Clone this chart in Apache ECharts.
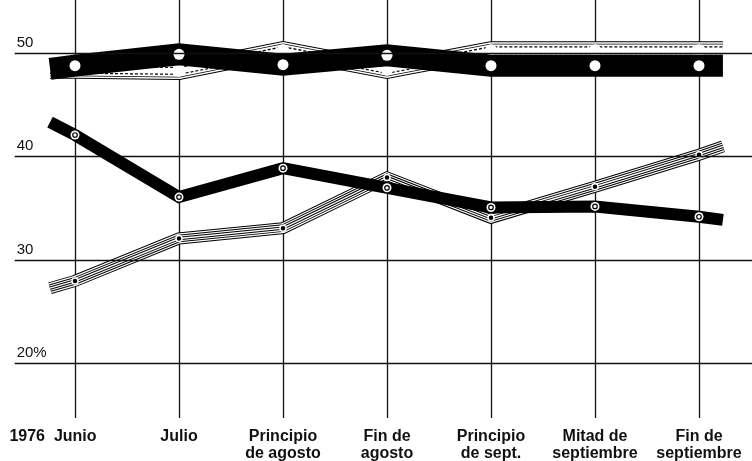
<!DOCTYPE html>
<html>
<head>
<meta charset="utf-8">
<script src="https://cdn.jsdelivr.net/npm/echarts@6/dist/echarts.min.js"></script>
<style>
html,body{margin:0;padding:0;background:#fff;}
#chart{width:752px;height:461px;}
</style>
</head>
<body>
<div id="chart"></div>
<script>
// ---- data ----
const categories = ['1976  Junio', 'Julio', 'Principio\nde agosto', 'Fin de\nagosto', 'Principio\nde sept.', 'Mitad de\nseptiembre', 'Fin de\nseptiembre'];
const yTickValues = [20, 30, 40, 50];
const yTickLabels = ['20%', '30', '40', '50'];

// thick black band near 50
const topBand = [48.8, 49.9, 48.9, 49.8, 48.8, 48.8, 48.8];
const topBandEnds = [48.5, 48.8];
// hatched band behind it
const topHatched = [48.4, 48.3, 50.3, 48.4, 50.3, 50.3, 50.3];
const topHatchedEnds = [48.4, 50.3];
// solid black line
const blackLine = [42.1, 36.1, 38.9, 37.0, 35.1, 35.2, 34.2];
const blackLineEnds = [43.35, 33.9];
// striped line
const stripedLine = [28.0, 32.1, 33.1, 38.0, 34.1, 37.1, 40.2];
const stripedLineEnds = [27.3, 41.0];

// ---- layout ----
const startX = -0.24, endX = 6.23;

function build(vals, ends) {
  const d = [{ value: [startX, ends[0]], symbol: 'none' }];
  vals.forEach((v, i) => d.push({ value: [i, v] }));
  d.push({ value: [endX, ends[1]], symbol: 'none' });
  return d;
}
function layer(data, color, width, z, extra) {
  return Object.assign({
    type: 'line', data: data, z: z, silent: true, clip: false,
    showSymbol: false, symbol: 'none',
    lineStyle: { color: color, width: width, cap: 'butt', join: 'miter' }
  }, extra || {});
}

const series = [];
// gridlines + y labels
series.push({
  type: 'line', data: [], z: 1, silent: true,
  markLine: {
    silent: true, symbol: ['none', 'none'], animation: false,
    lineStyle: { color: '#111', width: 1.4, type: 'solid' },
    label: {
      show: true, position: 'insideStartTop', formatter: '{b}', distance: [2, 3],
      color: '#111', fontSize: 15, fontFamily: 'Liberation Sans'
    },
    data: yTickValues.map((v, i) => [{ coord: [-0.58, v], name: yTickLabels[i] }, { coord: [7, v] }])
  }
});

// hatched band behind the top band
const hd = build(topHatched, topHatchedEnds);
series.push(layer(hd, '#000', 18, 2));
series.push(layer(hd, '#fff', 16, 2));
series.push(layer(hd, '#000', 13, 2));
series.push(layer(hd, '#fff', 11.5, 2));
series.push(layer(hd, '#000', 8, 2, { lineStyle: { color: '#000', width: 8, type: [3, 2], join: 'miter' } }));
series.push(layer(hd, '#fff', 5.5, 2, {
  showSymbol: true, symbol: 'emptyCircle', symbolSize: 10,
  itemStyle: { color: '#fff', borderColor: '#000', borderWidth: 1.2 }
}));

// top black band
series.push(layer(build(topBand, topBandEnds), '#000', 22, 3, {
  showSymbol: true, symbol: 'circle', symbolSize: 11,
  itemStyle: { color: '#fff', borderWidth: 0 }
}));

// striped line
const sd = build(stripedLine, stripedLineEnds);
series.push(layer(sd, '#000', 12, 4));
series.push(layer(sd, '#fff', 10, 4));
series.push(layer(sd, '#000', 7.6, 4));
series.push(layer(sd, '#fff', 5.6, 4));
series.push(layer(sd, '#000', 3.4, 4));
series.push(layer(sd, '#fff', 1.4, 4, {
  showSymbol: true, symbol: 'circle', symbolSize: 6,
  itemStyle: { color: '#000', borderColor: '#fff', borderWidth: 1.5 }
}));

// black line
const bd = build(blackLine, blackLineEnds);
series.push(layer(bd, '#000', 12, 5, {
  showSymbol: true, symbol: 'circle', symbolSize: 9,
  itemStyle: { color: '#fff', borderWidth: 0 }
}));
series.push(layer(bd, '#000', 0, 6, {
  lineStyle: { width: 0, opacity: 0 },
  showSymbol: true, symbol: 'circle', symbolSize: 4.5,
  itemStyle: { color: '#fff', borderColor: '#000', borderWidth: 1.2 }
}));

const chart = echarts.init(document.getElementById('chart'), null, { renderer: 'canvas' });
chart.setOption({
  animation: false,
  backgroundColor: '#fff',
  grid: { left: -29, width: 832, top: 0, height: 418, containLabel: false, outerBoundsMode: 'none' },
  xAxis: {
    type: 'value', min: -1, max: 7, interval: 1,
    axisLine: { show: false }, axisTick: { show: false },
    splitLine: { show: true, lineStyle: { color: '#111', width: 1.3 } },
    axisLabel: {
      show: true, margin: 10, color: '#111', fontSize: 16, fontWeight: 'bold',
      fontFamily: 'Liberation Sans', lineHeight: 17, align: 'center',
      formatter: function (v) {
        const i = Math.round(v);
        if (i < 0 || i >= categories.length) return '';
        if (i === 0) return '{a|' + categories[0] + '}';
        return categories[i];
      },
      rich: { a: { padding: [0, 44, 0, 0], fontSize: 16, fontWeight: 'bold', fontFamily: 'Liberation Sans', color: '#111' } }
    }
  },
  yAxis: {
    type: 'value', min: 14.75, max: 55.15, show: false,
    splitLine: { show: false }
  },
  series: series
});
</script>
</body>
</html>
